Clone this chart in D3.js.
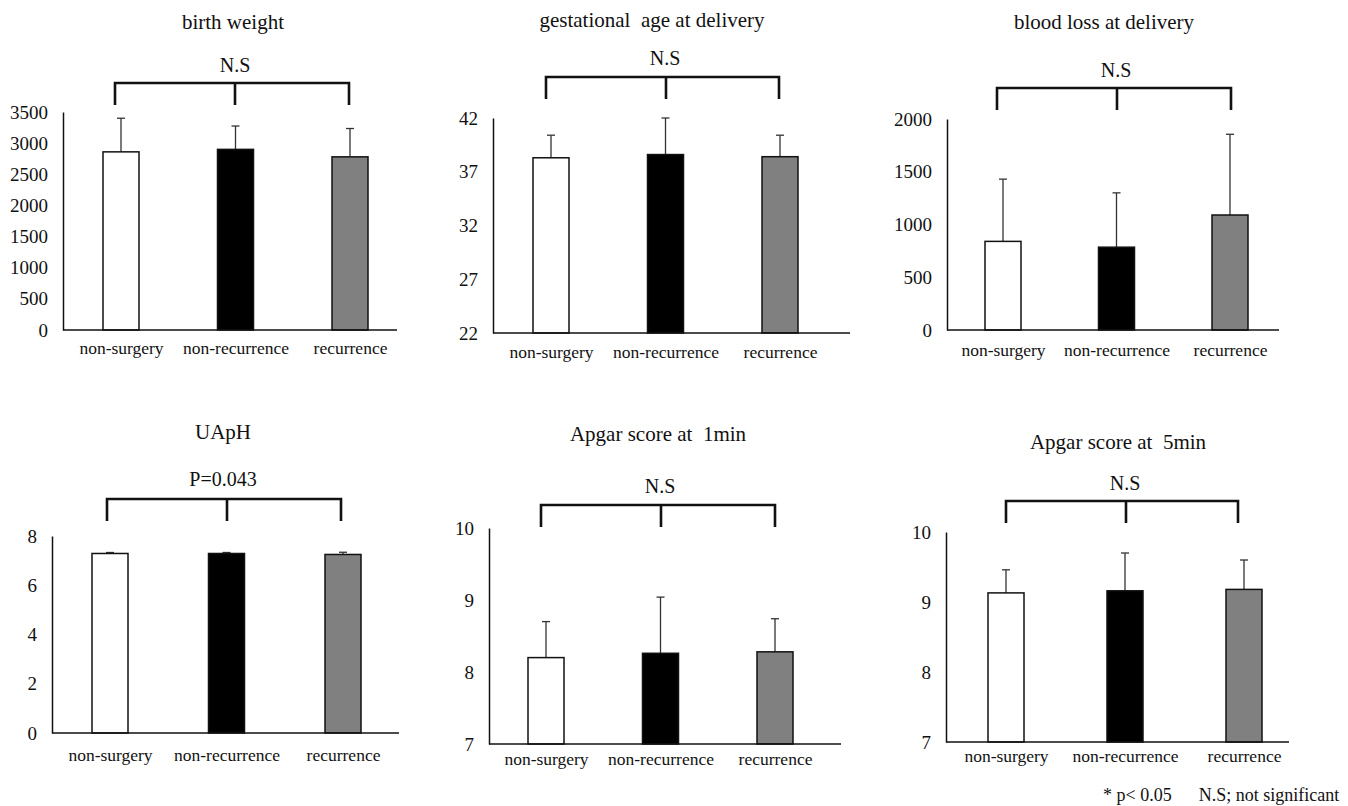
<!DOCTYPE html>
<html>
<head>
<meta charset="utf-8">
<script src="https://cdn.jsdelivr.net/npm/d3@7"></script>
<style>
  body { margin: 0; background: #fff; }
  svg text { font-family: "Liberation Serif", "Times New Roman", serif; fill: #111; }
</style>
</head>
<body>
<svg id="chart" width="1348" height="806"></svg>
<script>
// chart data
var groups = ["non-surgery", "non-recurrence", "recurrence"];
var titles = ["birth weight", "gestational  age at delivery", "blood loss at delivery",
              "UApH", "Apgar score at  1min", "Apgar score at  5min"];
var sigLabels = ["N.S", "N.S", "N.S", "P=0.043", "N.S", "N.S"];
var means = [[2860, 2900, 2780], [38.3, 38.6, 38.4], [840, 785, 1090],
             [7.29, 7.29, 7.25], [8.2, 8.26, 8.28], [9.13, 9.16, 9.18]];
var sds = [[540, 375, 455], [2.1, 3.4, 2.0], [590, 515, 765],
           [0.04, 0.04, 0.09], [0.5, 0.78, 0.46], [0.33, 0.54, 0.42]];
var yDomains = [[0, 3500], [22, 42], [0, 2000], [0, 8], [7, 10], [7, 10]];
var yTicks = [[0, 500, 1000, 1500, 2000, 2500, 3000, 3500], [22, 27, 32, 37, 42],
              [0, 500, 1000, 1500, 2000], [0, 2, 4, 6, 8], [7, 8, 9, 10], [7, 8, 9, 10]];
var fills = ["#ffffff", "#000000", "#808080"];

// layout of each panel (pixels)
var layout = [
  {left: 63,  right: 397,  top: 112, bottom: 330, c0: 121,  c2: 350,  tx: 233,  ty: 22,  sx: 235,  sy: 65,  by: 83,  bl: 115,  br: 349,  bm: 235,  lp: 12},
  {left: 493, right: 850,  top: 118, bottom: 333, c0: 551,  c2: 780,  tx: 652,  ty: 20,  sx: 665,  sy: 58,  by: 77,  bl: 546,  br: 779,  bm: 666,  lp: 13},
  {left: 947, right: 1279, top: 119, bottom: 330, c0: 1003, c2: 1230, tx: 1104, ty: 22,  sx: 1116, sy: 70,  by: 88,  bl: 997,  br: 1231, bm: 1117, lp: 14},
  {left: 52,  right: 399,  top: 536, bottom: 733, c0: 110,  c2: 343,  tx: 223,  ty: 432, sx: 223,  sy: 479, by: 499, bl: 107,  br: 341,  bm: 227,  lp: 16},
  {left: 489, right: 841,  top: 528, bottom: 744, c0: 546,  c2: 775,  tx: 658,  ty: 434, sx: 660,  sy: 486, by: 505, bl: 541,  br: 775,  bm: 661,  lp: 9},
  {left: 946, right: 1289, top: 532, bottom: 742, c0: 1006, c2: 1244, tx: 1118, ty: 442, sx: 1125, sy: 483, by: 501, bl: 1006, br: 1238, bm: 1126, lp: 8}
];
var barWidth = 36;
var bracketDrop = 22;

var svg = d3.select("#chart");

titles.forEach(function (title, p) {
  var L = layout[p];
  var g = svg.append("g").attr("class", "panel");

  var y = d3.scaleLinear().domain(yDomains[p]).range([L.bottom, L.top]);
  var x = d3.scalePoint().domain(groups).range([L.c0, L.c2]);

  var rows = groups.map(function (name, i) {
    return {name: name, mean: means[p][i], sd: sds[p][i], fill: fills[i]};
  });

  // title and significance
  g.append("text").attr("x", L.tx).attr("y", L.ty + 7)
    .attr("text-anchor", "middle").style("font-size", "21px")
    .style("white-space", "pre").text(title);
  g.append("text").attr("x", L.sx).attr("y", L.sy + 7)
    .attr("text-anchor", "middle").style("font-size", "20px").text(sigLabels[p]);

  // bracket
  var br = d3.path();
  br.moveTo(L.bl, L.by + bracketDrop);
  br.lineTo(L.bl, L.by);
  br.lineTo(L.br, L.by);
  br.lineTo(L.br, L.by + bracketDrop);
  br.moveTo(L.bm, L.by);
  br.lineTo(L.bm, L.by + bracketDrop);
  g.append("path").attr("d", br.toString())
    .attr("fill", "none").attr("stroke", "#111").attr("stroke-width", 2.6);

  // error bars (upper only)
  var eb = g.selectAll("g.err").data(rows).enter().append("g").attr("class", "err");
  eb.append("line")
    .attr("x1", function (d) { return x(d.name); })
    .attr("x2", function (d) { return x(d.name); })
    .attr("y1", function (d) { return y(d.mean); })
    .attr("y2", function (d) { return y(d.mean + d.sd); })
    .attr("stroke", "#333").attr("stroke-width", 1.3);
  eb.append("line")
    .attr("x1", function (d) { return x(d.name) - 4; })
    .attr("x2", function (d) { return x(d.name) + 4; })
    .attr("y1", function (d) { return y(d.mean + d.sd); })
    .attr("y2", function (d) { return y(d.mean + d.sd); })
    .attr("stroke", "#333").attr("stroke-width", 1.3);

  // bars
  g.selectAll("rect.bar").data(rows).enter().append("rect")
    .attr("class", "bar")
    .attr("x", function (d) { return x(d.name) - barWidth / 2; })
    .attr("y", function (d) { return y(d.mean); })
    .attr("width", barWidth)
    .attr("height", function (d) { return y(yDomains[p][0]) - y(d.mean); })
    .attr("fill", function (d) { return d.fill; })
    .attr("stroke", "#111").attr("stroke-width", 1.5);

  // y axis
  var ya = g.append("g").attr("transform", "translate(" + L.left + ",0)")
    .call(d3.axisLeft(y).tickValues(yTicks[p]).tickSize(0).tickPadding(15).tickFormat(d3.format("d")));
  ya.select(".domain").attr("stroke", "#111").attr("stroke-width", 1.5);
  ya.selectAll("text").style("font-size", "19px").style("font-family", "'Liberation Serif', serif").attr("fill", "#111");

  // x axis line
  g.append("line").attr("x1", L.left).attr("x2", L.right)
    .attr("y1", L.bottom).attr("y2", L.bottom)
    .attr("stroke", "#111").attr("stroke-width", 1.5);

  // category labels
  var xa = g.append("g").attr("transform", "translate(0," + L.bottom + ")")
    .call(d3.axisBottom(x).tickSize(0).tickPadding(L.lp));
  xa.select(".domain").remove();
  xa.selectAll("text").style("font-size", "17.5px").style("font-family", "'Liberation Serif', serif").attr("fill", "#111");
});

// footnote
svg.append("text").attr("x", 1103).attr("y", 801).style("font-size", "18px")
  .style("white-space", "pre").text("* p< 0.05      N.S; not significant");
</script>
</body>
</html>
